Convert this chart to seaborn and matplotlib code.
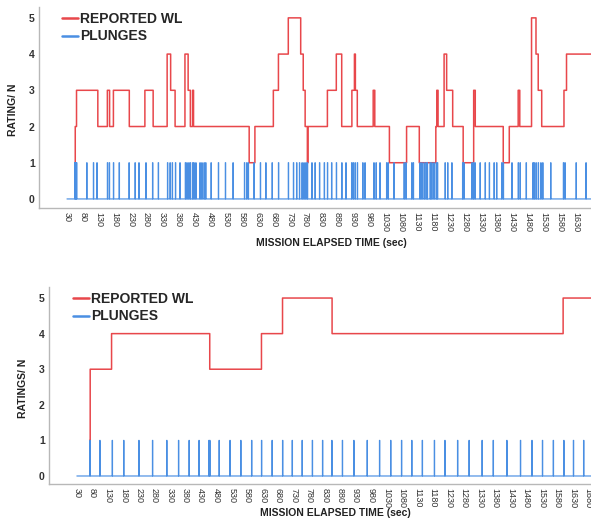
import numpy as np
import pandas as pd
import matplotlib
matplotlib.use("Agg")
import matplotlib.pyplot as plt
import seaborn as sns

# ---------------- data ----------------
series_names = ["REPORTED WL", "PLUNGES"]

# top panel: reported workload (change times, values) and plunge times (sec)
top_wl_times = [55, 56, 60, 127, 157, 164, 176, 226, 275, 301, 345, 356, 370, 401, 411,
                418, 425, 428, 603, 621, 679, 695, 726, 765, 773, 779, 786, 788, 849,
                877, 894, 926, 934, 937, 943, 993, 998, 1044, 1098, 1138, 1190, 1193,
                1197, 1216, 1224, 1243, 1276, 1309, 1314, 1402, 1421, 1449, 1454, 1491,
                1505, 1512, 1523, 1593, 1601]
top_wl_values = [1, 2, 3, 2, 3, 2, 3, 2, 3, 2, 4, 3, 2, 4, 3,
                 2, 3, 2, 1, 2, 3, 4, 5, 4, 3, 2, 1, 2, 3,
                 4, 2, 3, 4, 3, 2, 3, 2, 1, 2, 1, 2, 3,
                 2, 4, 3, 2, 1, 3, 2, 1, 2, 3, 2, 5,
                 4, 3, 2, 3, 4]
top_plunge_times = [54, 56, 58, 60, 92, 113, 124, 157, 163, 176, 194, 225, 244, 256, 278,
                    299, 317, 346, 354, 361, 371, 385, 402, 407, 413, 418, 425, 429, 435,
                    448, 454, 461, 466, 483, 506, 528, 552, 588, 595, 600, 618, 638, 655,
                    675, 695, 726, 742, 752, 761, 769, 775, 781, 786, 800, 810, 824, 839,
                    849, 862, 877, 894, 907, 925, 930, 936, 943, 960, 967, 995, 1002,
                    1014, 1035, 1040, 1058, 1090, 1096, 1114, 1119, 1140, 1146, 1153,
                    1159, 1163, 1172, 1177, 1184, 1191, 1195, 1219, 1227, 1240, 1274,
                    1278, 1303, 1308, 1313, 1329, 1345, 1358, 1373, 1381, 1397, 1402,
                    1429, 1449, 1455, 1474, 1495, 1499, 1505, 1512, 1520, 1526, 1551,
                    1591, 1596, 1631, 1662]
top_start, top_end = 30, 1678
top_ticks = list(range(30, 1631, 50))

# bottom panel
bottom_wl_times = [72, 73, 142, 459, 626, 694, 854, 1600]
bottom_wl_values = [1, 3, 4, 3, 4, 5, 4, 5]
bottom_plunge_times = [72, 104, 144, 181, 230, 274, 320, 358, 392, 424, 456, 459, 489,
                       524, 559, 594, 626, 660, 694, 725, 757, 790, 823, 853, 887, 924,
                       967, 1007, 1043, 1078, 1111, 1145, 1184, 1218, 1259, 1296, 1338,
                       1374, 1418, 1462, 1499, 1533, 1568, 1602, 1633, 1666]
bottom_start, bottom_end = 30, 1690
bottom_ticks = list(range(30, 1681, 50))

RED = "#e8474b"
BLUE = "#4a8fe3"


def build(wl_t, wl_v, pl_t, start, end):
    sec = np.arange(start, end + 1)
    idx = np.searchsorted(np.array(wl_t), sec, side="right") - 1
    m = idx >= 0
    wl = pd.DataFrame({"t": sec[m], "v": np.array(wl_v)[idx[m]],
                       "series": series_names[0]})
    pulse = np.isin(sec, np.array(pl_t))
    pl = pd.DataFrame({"t": sec, "v": pulse.astype(int), "series": series_names[1]})
    return pd.concat([wl, pl], ignore_index=True)


sns.set_style("white")
plt.rcParams["font.family"] = ["Liberation Sans", "DejaVu Sans"]

fig = plt.figure(figsize=(5.91, 5.20), dpi=100)
W, H = 591, 520


def make_axes(left, top, bottom):
    return fig.add_axes([left / W, 1 - bottom / H, 1 - left / W, (bottom - top) / H])


ax1 = make_axes(39, 7, 208)
ax2 = make_axes(49, 287, 484)

panels = [
    (ax1, build(top_wl_times, top_wl_values, top_plunge_times, top_start, top_end),
     top_ticks, (-58, 1678), (-0.25, 5.3), "RATING/ N", (0.53, -0.148), (-0.038, 0.49),
     (0.042, 0.975)),
    (ax2, build(bottom_wl_times, bottom_wl_values, bottom_plunge_times, bottom_start,
                bottom_end),
     bottom_ticks, (-60, 1690), (-0.225, 5.31), "RATINGS/ N", (0.528, -0.12),
     (-0.039, 0.487), (0.044, 0.975)),
]

for ax, df, ticks, xlim, ylim, ylab, xl_pos, yl_pos, leg_pos in panels:
    sns.lineplot(data=df, x="t", y="v", hue="series", hue_order=series_names,
                 palette={series_names[0]: RED, series_names[1]: BLUE},
                 estimator=None, drawstyle="steps-post", lw=1.1, ax=ax)
    for line in ax.lines:
        if matplotlib.colors.to_hex(line.get_color()) == BLUE:
            line.set_linewidth(0.85)
    ax.set_xlim(*xlim)
    ax.set_ylim(*ylim)
    ax.set_xticks(ticks)
    ax.set_xticklabels([str(t) for t in ticks], rotation=-90, fontsize=6.5,
                       color="#333333")
    ax.set_yticks([0, 1, 2, 3, 4, 5])
    ax.set_yticklabels(["0", "1", "2", "3", "4", "5"], fontsize=7.5,
                       fontweight="bold", color="#333333")
    ax.tick_params(axis="both", length=0, pad=3)
    ax.set_xlabel("MISSION ELAPSED TIME (sec)", fontsize=7.5, fontweight="bold",
                  color="#222222")
    ax.set_ylabel(ylab, fontsize=7.5, fontweight="bold", color="#222222")
    ax.xaxis.set_label_coords(*xl_pos)
    ax.yaxis.set_label_coords(*yl_pos)
    for s in ["top", "right"]:
        ax.spines[s].set_visible(False)
    for s in ["left", "bottom"]:
        ax.spines[s].set_color("#b8b8b8")
        ax.spines[s].set_linewidth(1.0)
    handles, labels = ax.get_legend_handles_labels()
    leg = ax.legend(handles, labels, loc="upper left", bbox_to_anchor=leg_pos,
                    frameon=False, borderpad=0, borderaxespad=0, handlelength=1.15,
                    handletextpad=0.15, labelspacing=0.25,
                    prop={"family": ["Liberation Sans"], "weight": "bold", "size": 10})
    for line in leg.get_lines():
        line.set_linewidth(1.8)

fig.savefig("out.png", dpi=100)
